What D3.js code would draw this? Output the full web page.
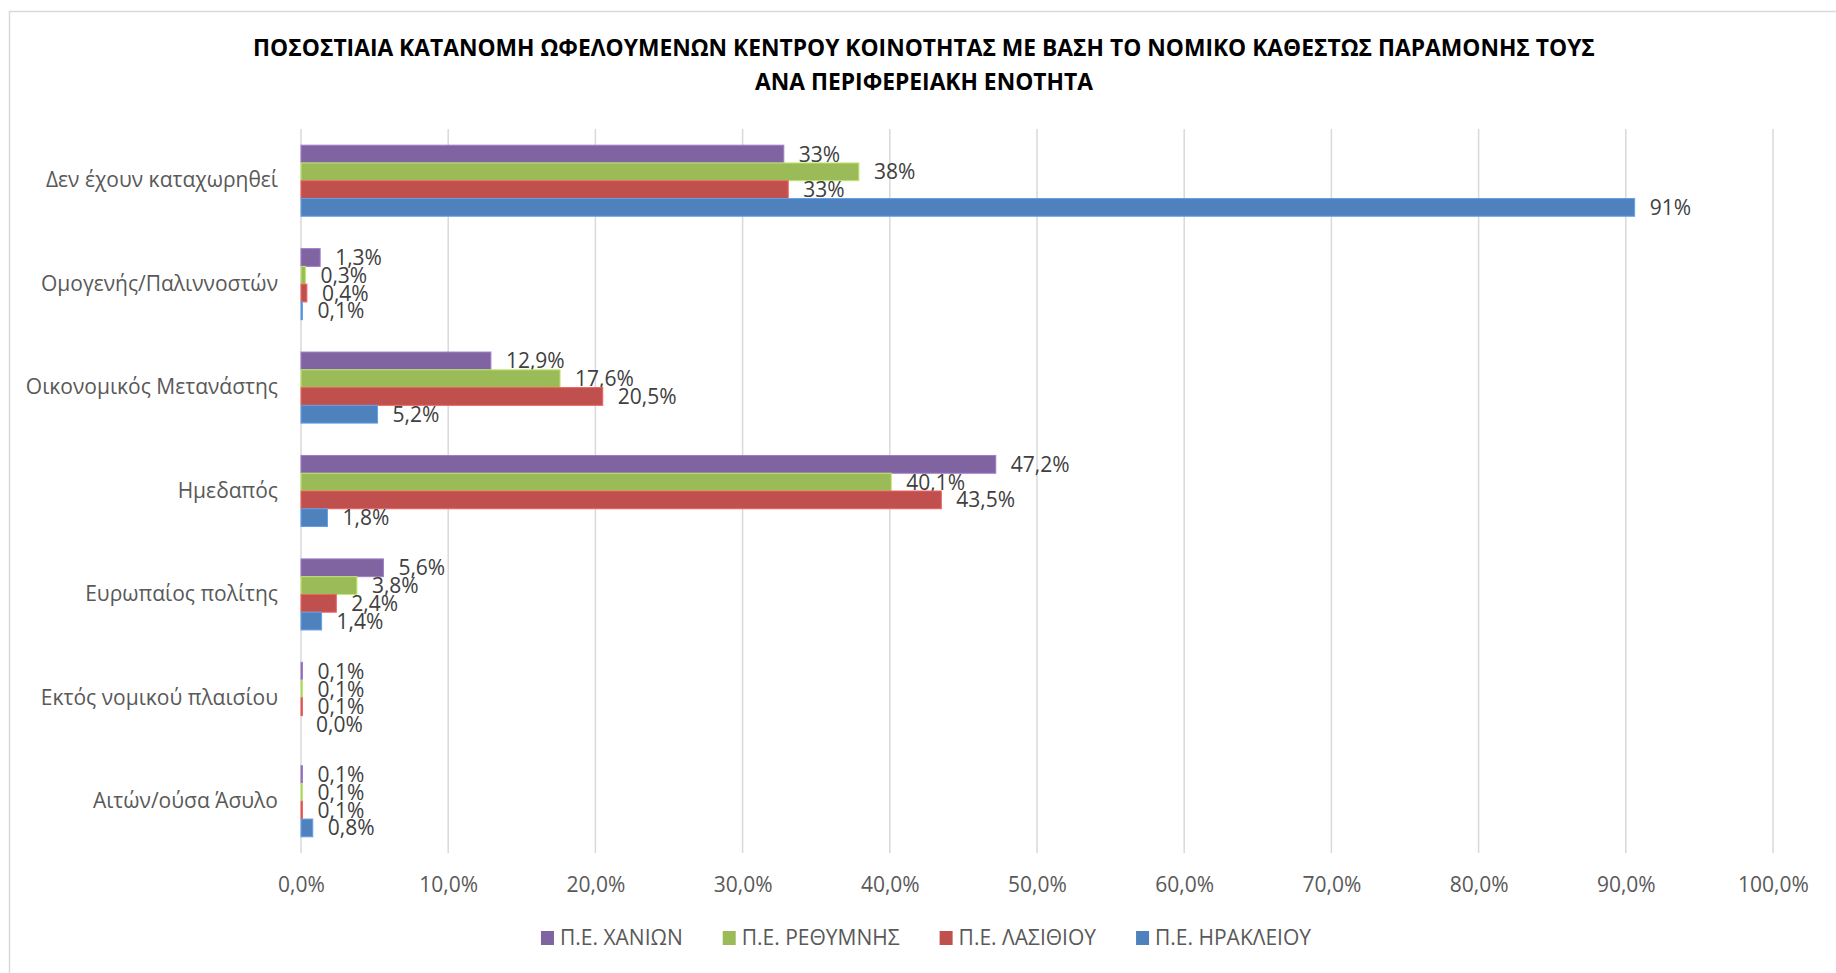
<!DOCTYPE html>
<html>
<head>
<meta charset="utf-8">
<script src="https://cdn.jsdelivr.net/npm/d3@7"></script>
<style>
  body { margin: 0; background: #fff; }
  text { font-family: "Open Sans", "Noto Sans", sans-serif; }
</style>
</head>
<body>
<div id="container"></div>
<script>
// Dimensiones fijas como en la imagen original
const WIDTH = 1836;
const HEIGHT = 973;

// Datos
const categories = [
  'Δεν έχουν καταχωρηθεί',
  'Ομογενής/Παλιννοστών',
  'Οικονομικός Μετανάστης',
  'Ημεδαπός',
  'Ευρωπαίος πολίτης',
  'Εκτός νομικού πλαισίου',
  'Αιτών/ούσα Άσυλο'
];
const seriesNames = ['Π.Ε. ΧΑΝΙΩΝ', 'Π.Ε. ΡΕΘΥΜΝΗΣ', 'Π.Ε. ΛΑΣΙΘΙΟΥ', 'Π.Ε. ΗΡΑΚΛΕΙΟΥ'];
const chania   = [32.8, 1.3, 12.9, 47.2, 5.6, 0.1, 0.1];
const rethymno = [37.9, 0.3, 17.6, 40.1, 3.8, 0.1, 0.1];
const lasithi  = [33.1, 0.4, 20.5, 43.5, 2.4, 0.1, 0.1];
const heraklio = [90.6, 0.1, 5.2, 1.8, 1.4, 0.0, 0.8];
const labelDecimals = [0, 1, 1, 1, 1, 1, 1];
const tickValues = [0, 10, 20, 30, 40, 50, 60, 70, 80, 90, 100];
const titleLines = [
  'ΠΟΣΟΣΤΙΑΙΑ ΚΑΤΑΝΟΜΗ ΩΦΕΛΟΥΜΕΝΩΝ ΚΕΝΤΡΟΥ ΚΟΙΝΟΤΗΤΑΣ ΜΕ ΒΑΣΗ ΤΟ ΝΟΜΙΚΟ ΚΑΘΕΣΤΩΣ ΠΑΡΑΜΟΝΗΣ ΤΟΥΣ',
  'ΑΝΑ ΠΕΡΙΦΕΡΕΙΑΚΗ ΕΝΟΤΗΤΑ'
];

const seriesValues = [chania, rethymno, lasithi, heraklio];
const colors = ['#8064A2', '#9BBB59', '#C0504D', '#4F81BD'];

// Formato con coma decimal
const locale = d3.formatLocale({ decimal: ',', thousands: '.', grouping: [3], currency: ['', '€'] });
const fmt0 = locale.format('.0f');
const fmt1 = locale.format('.1f');

const svg = d3.select('#container')
              .append('svg')
                .attr('width', WIDTH)
                .attr('height', HEIGHT);

// Marco del gráfico (solo se ven el borde izquierdo y el superior)
svg.append('rect')
   .attr('x', 9.5)
   .attr('y', 11.5)
   .attr('width', WIDTH + 20)
   .attr('height', HEIGHT + 20)
   .attr('fill', 'none')
   .attr('stroke', '#d9d9d9')
   .attr('stroke-width', 1.5);

// Escalas
const x = d3.scaleLinear()
            .domain([0, 100])
            .range([301, 1773]);

const y = d3.scaleBand()
            .domain(categories)
            .range([129, 853])
            .paddingInner(0.313)
            .paddingOuter(0.1565);

const ySeries = d3.scaleBand()
                  .domain(seriesNames)
                  .range([0, y.bandwidth()]);

// Líneas de la grilla vertical
svg.append('g')
   .attr('class', 'grid')
   .selectAll('line')
   .data(tickValues)
   .enter()
   .append('line')
     .attr('x1', d => x(d))
     .attr('x2', d => x(d))
     .attr('y1', 129)
     .attr('y2', 853)
     .attr('stroke', '#d9d9d9')
     .attr('stroke-width', 1.5);

// Eje horizontal: solo etiquetas
const xAxis = svg.append('g')
                 .attr('transform', `translate(0, 853)`)
                 .call(d3.axisBottom(x)
                         .tickValues(tickValues)
                         .tickSize(0)
                         .tickPadding(24)
                         .tickFormat(d => fmt1(d) + '%'));
xAxis.select('.domain').remove();
xAxis.selectAll('text')
     .attr('fill', '#595959')
     .attr('font-size', 21);

// Etiquetas de categorías
const yAxis = svg.append('g')
                 .attr('transform', 'translate(301, 0)')
                 .call(d3.axisLeft(y).tickSize(0).tickPadding(23));
yAxis.select('.domain').remove();
yAxis.selectAll('text')
     .attr('fill', '#595959')
     .attr('font-size', 21);

// Barras agrupadas
const groups = svg.append('g')
                  .attr('class', 'bars')
                  .selectAll('g')
                  .data(categories)
                  .enter()
                  .append('g')
                    .attr('transform', c => `translate(0, ${y(c)})`);

const rows = groups.selectAll('g')
                   .data((c, ci) => seriesNames.map((s, si) => ({
                     cat: ci, series: s, color: colors[si], value: seriesValues[si][ci]
                   })))
                   .enter()
                   .append('g');

rows.append('rect')
    .attr('x', x(0))
    .attr('y', d => ySeries(d.series))
    .attr('width', d => x(d.value) - x(0))
    .attr('height', ySeries.bandwidth())
    .attr('fill', d => d.color)
    .attr('stroke', d => d3.color(d.color).brighter(0.6))
    .attr('stroke-width', 1);

// Etiquetas de valores
rows.append('text')
    .attr('x', d => x(d.value) + 15)
    .attr('y', d => ySeries(d.series) + ySeries.bandwidth() / 2)
    .attr('dy', '0.36em')
    .attr('fill', '#404040')
    .attr('font-size', 21)
    .text(d => (labelDecimals[d.cat] ? fmt1(d.value) : fmt0(d.value)) + '%');

// Título
svg.append('g')
   .selectAll('text')
   .data(titleLines)
   .enter()
   .append('text')
     .attr('x', 924)
     .attr('y', (d, i) => 56 + i * 34)
     .attr('text-anchor', 'middle')
     .attr('font-weight', 'bold')
     .attr('font-size', 22.8)
     .attr('fill', '#000')
     .text(d => d);

// Leyenda centrada debajo del eje
const legend = svg.append('g').attr('class', 'legend');
const items = legend.selectAll('g')
                    .data(seriesNames)
                    .enter()
                    .append('g');
items.append('rect')
     .attr('width', 13)
     .attr('height', 14)
     .attr('y', 931)
     .attr('fill', (d, i) => colors[i]);
items.append('text')
     .attr('x', 19)
     .attr('y', 945)
     .attr('fill', '#595959')
     .attr('font-size', 21)
     .text(d => d);

let offset = 0;
const positions = [];
items.each(function () {
  const w = this.querySelector('text').getComputedTextLength();
  positions.push(offset);
  offset += 19 + w + 40;
});
const totalWidth = offset - 40;
const start = 926 - totalWidth / 2;
items.attr('transform', (d, i) => `translate(${start + positions[i]}, 0)`);
</script>
</body>
</html>
